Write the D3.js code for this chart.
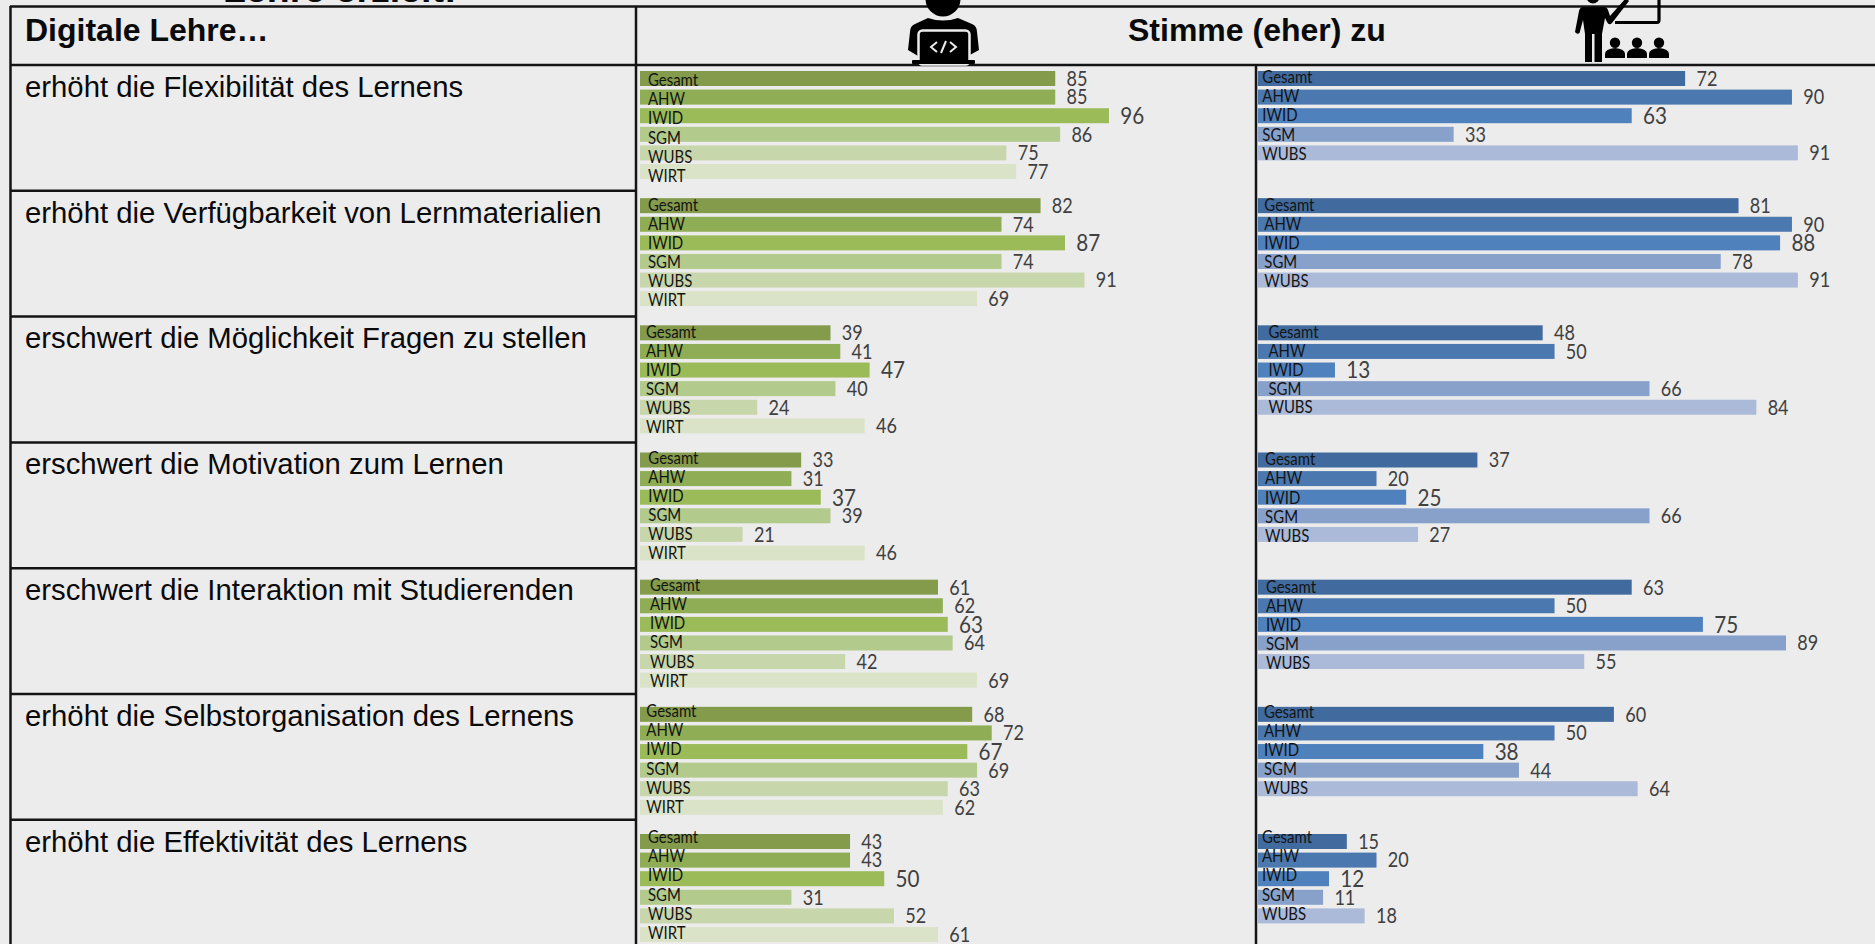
<!DOCTYPE html>
<html lang="de">
  <head>
    <meta charset="UTF-8" />
    <title>Digitale Lehre</title>
    <script src="https://d3js.org/d3.v7.min.js"></script>
    <style>
      body {
        margin: 0;
        background: #ececec;
        overflow: hidden;
      }
      svg {
        display: block;
      }
      .grid {
        stroke: #141414;
        stroke-width: 2.5px;
      }
      .head {
        font-family: "Liberation Sans", Arial, sans-serif;
        font-weight: bold;
        font-size: 32px;
        fill: #0a0a0a;
      }
      .title {
        font-size: 37.5px;
      }
      .stmt {
        font-family: "Liberation Sans", Arial, sans-serif;
        font-size: 29.3px;
        fill: #0a0a0a;
      }
      .cat {
        font-family: Lato, sans-serif;
        font-size: 17px;
        fill: #141414;
      }
      .val {
        font-family: Lato, sans-serif;
        font-size: 20.5px;
        fill: #404040;
      }
      .val.big {
        font-size: 23.5px;
      }
    </style>
  </head>
  <body>
    <svg id="chart" width="1875" height="944"></svg>

    <script>
      const statements = [
        "erhöht die Flexibilität des Lernens",
        "erhöht die Verfügbarkeit von Lernmaterialien",
        "erschwert die Möglichkeit Fragen zu stellen",
        "erschwert die Motivation zum Lernen",
        "erschwert die Interaktion mit Studierenden",
        "erhöht die Selbstorganisation des Lernens",
        "erhöht die Effektivität des Lernens",
      ];
      const greenCats = ["Gesamt", "AHW", "IWID", "SGM", "WUBS", "WIRT"];
      const blueCats = ["Gesamt", "AHW", "IWID", "SGM", "WUBS"];

      // students, one row per statement
      const greenValues = [
        [85, 85, 96, 86, 75, 77],
        [82, 74, 87, 74, 91, 69],
        [39, 41, 47, 40, 24, 46],
        [33, 31, 37, 39, 21, 46],
        [61, 62, 63, 64, 42, 69],
        [68, 72, 67, 69, 63, 62],
        [43, 43, 50, 31, 52, 61],
      ];
      // teachers
      const blueValues = [
        [72, 90, 63, 33, 91],
        [81, 90, 88, 78, 91],
        [48, 50, 13, 66, 84],
        [37, 20, 25, 66, 27],
        [63, 50, 75, 89, 55],
        [60, 50, 38, 44, 64],
        [15, 20, 12, 11, 18],
      ];

      const greenColors = ["#839b4b", "#8fad54", "#9bbb59", "#b2ca8c", "#c8d6ac", "#dae3c8"];
      const blueColors = ["#416b9e", "#4a78af", "#4f81bd", "#88a1cb", "#abbad8"];

      // the category labels were pasted by hand in the original, so they sit a bit off per block
      // [x of label, dy of first label, dy growth per row]
      const greenLabelPos = [[648, 1.7, 0.7], [648, 0, 0.45], [646, 0, 0.4], [648.3, -1, 0.4], [650, -2, 0.7], [646.3, -2.5, 0.5], [648, -4, 0.65]];
      const blueLabelPos = [[1262.3, -1, 0.6], [1264.3, 0, 0.5], [1268.4, 0, 0.2], [1265.1, -0.3, 0.6], [1265.9, 0, 0.6], [1263.9, -2.2, 0.5], [1261.9, -4, 0.65]];

      const svg = d3.select("#chart");

      // Lato is wider than the Calibri look of the original, squeeze it a little
      const squeeze = 0.88;

      // scales
      const xGreen = d3.scaleLinear().domain([0, 100]).range([640, 1128.5]);
      const xBlue = d3.scaleLinear().domain([0, 100]).range([1257.8, 1851.3]);
      const yGroup = d3.scaleLinear().domain([0, 6]).range([71, 834]);
      const rowBand = d3.scaleBand().domain(d3.range(6)).range([0, 108]).paddingInner(0.1935);
      const yLine = d3.scaleLinear().domain([0, 7]).range([65, 945.6]);

      // table lines
      const grid = svg.append("g").attr("class", "grid");
      grid.append("line").attr("x1", 10).attr("x2", 1875).attr("y1", 6.5).attr("y2", 6.5);
      grid.append("line").attr("x1", 10).attr("x2", 1875).attr("y1", 65).attr("y2", 65);
      grid.append("line").attr("x1", 10.5).attr("x2", 10.5).attr("y1", 6).attr("y2", 944);
      grid.append("line").attr("x1", 636).attr("x2", 636).attr("y1", 6).attr("y2", 944);
      grid.append("line").attr("x1", 1256).attr("x2", 1256).attr("y1", 65).attr("y2", 944);
      grid
        .selectAll(".rowline")
        .data(d3.range(1, 7))
        .join("line")
        .attr("class", "rowline")
        .attr("x1", 10)
        .attr("x2", 636)
        .attr("y1", (d) => yLine(d))
        .attr("y2", (d) => yLine(d));

      // headers
      svg.append("text").attr("class", "head title").attr("x", 223).attr("y", 2).text("Lehre erzielt:");
      svg.append("text").attr("class", "head").attr("x", 25).attr("y", 41).text("Digitale Lehre…");
      svg.append("text").attr("class", "head").attr("x", 1128).attr("y", 41).text("Stimme (eher) zu");

      svg
        .selectAll(".stmt")
        .data(statements)
        .join("text")
        .attr("class", "stmt")
        .attr("x", 25)
        .attr("y", (d, i) => yLine(i) + 31.8)
        .text((d) => d);

      function drawPanel(values, cats, colors, x, labelPos) {
        values.forEach((row, g) => {
          const group = svg.append("g").attr("transform", `translate(0,${yGroup(g)})`);
          group
            .selectAll("rect")
            .data(row)
            .join("rect")
            .attr("x", x(0))
            .attr("y", (d, i) => rowBand(i))
            .attr("width", (d) => x(d) - x(0))
            .attr("height", rowBand.bandwidth())
            .attr("fill", (d, i) => colors[i]);
          group
            .selectAll(".val")
            .data(row)
            .join("text")
            .attr("class", (d, i) => (cats[i] === "IWID" ? "val big" : "val"))
            .attr("transform", (d, i) => `translate(${x(d) + 11.3},${rowBand(i) + rowBand.bandwidth() / 2}) scale(${squeeze},1)`)
            .attr("dy", "0.36em")
            .text((d) => d);
          const [lx, dy0, dyStep] = labelPos[g];
          group
            .selectAll(".cat")
            .data(cats)
            .join("text")
            .attr("class", "cat")
            .attr("transform", (d, i) => `translate(${lx},${rowBand(i) + rowBand.bandwidth() / 2 + dy0 + i * dyStep - 0.7}) scale(${squeeze},1)`)
            .attr("dy", "0.36em")
            .text((d) => d);
        });
      }
      drawPanel(greenValues, greenCats, greenColors, xGreen, greenLabelPos);
      drawPanel(blueValues, blueCats, blueColors, xBlue, blueLabelPos);

      // icon: student at laptop
      const student = svg.append("g").attr("fill", "#000");
      student.append("circle").attr("cx", 943).attr("cy", -1).attr("r", 17.5);
      student
        .append("path")
        .attr("d", "M928 18 Q943 23 958 18 L972 24 Q977 26 977 32 L979 50 L968 56 L918 56 L908 50 L910 32 Q910 26 915 24 Z");
      student
        .append("rect")
        .attr("x", 918.5)
        .attr("y", 30.5)
        .attr("width", 51)
        .attr("height", 34)
        .attr("rx", 4)
        .attr("fill", "#000")
        .attr("stroke", "#ececec")
        .attr("stroke-width", 2.5);
      student.append("rect").attr("x", 912).attr("y", 60).attr("width", 63).attr("height", 4).attr("rx", 1);
      student
        .append("path")
        .attr("d", "M937 42 L931 47 L937 52 M950 42 L956 47 L950 52 M946 41 L941 53")
        .attr("fill", "none")
        .attr("stroke", "#ececec")
        .attr("stroke-width", 2);

      // icon: teacher at board with three listeners
      const teacher = svg.append("g").attr("fill", "#000");
      teacher.append("circle").attr("cx", 1593).attr("cy", -3).attr("r", 6.5);
      teacher
        .append("path")
        .attr("d", "M1583 7 L1604 7 Q1607 7 1608 10 L1610 16 L1626 -2 L1629 1 L1612 23 Q1609 26 1607 22 L1605 18 L1602 34 L1602 62 L1594.5 62 L1594.5 34 L1592 34 L1592 62 L1585 62 L1585 34 L1583 20 L1579.5 33 Q1577 35 1575 32 L1579 11 Q1580 7 1583 7 Z");
      teacher
        .append("path")
        .attr("d", "M1615 22.5 L1657 22.5 Q1659 22.5 1659 20 L1659 -5")
        .attr("fill", "none")
        .attr("stroke", "#000")
        .attr("stroke-width", 3.2);
      teacher
        .selectAll(".listener")
        .data([1615, 1637, 1659])
        .join("path")
        .attr("class", "listener")
        .attr("d", (cx) => `M${cx - 10} 58 L${cx - 10} 54 Q${cx - 10} 49 ${cx} 48 Q${cx + 10} 49 ${cx + 10} 54 L${cx + 10} 58 Z`);
      teacher
        .selectAll(".lhead")
        .data([1615, 1637, 1659])
        .join("circle")
        .attr("class", "lhead")
        .attr("cx", (d) => d)
        .attr("cy", 42.7)
        .attr("r", 5.2);
    </script>
  </body>
</html>
